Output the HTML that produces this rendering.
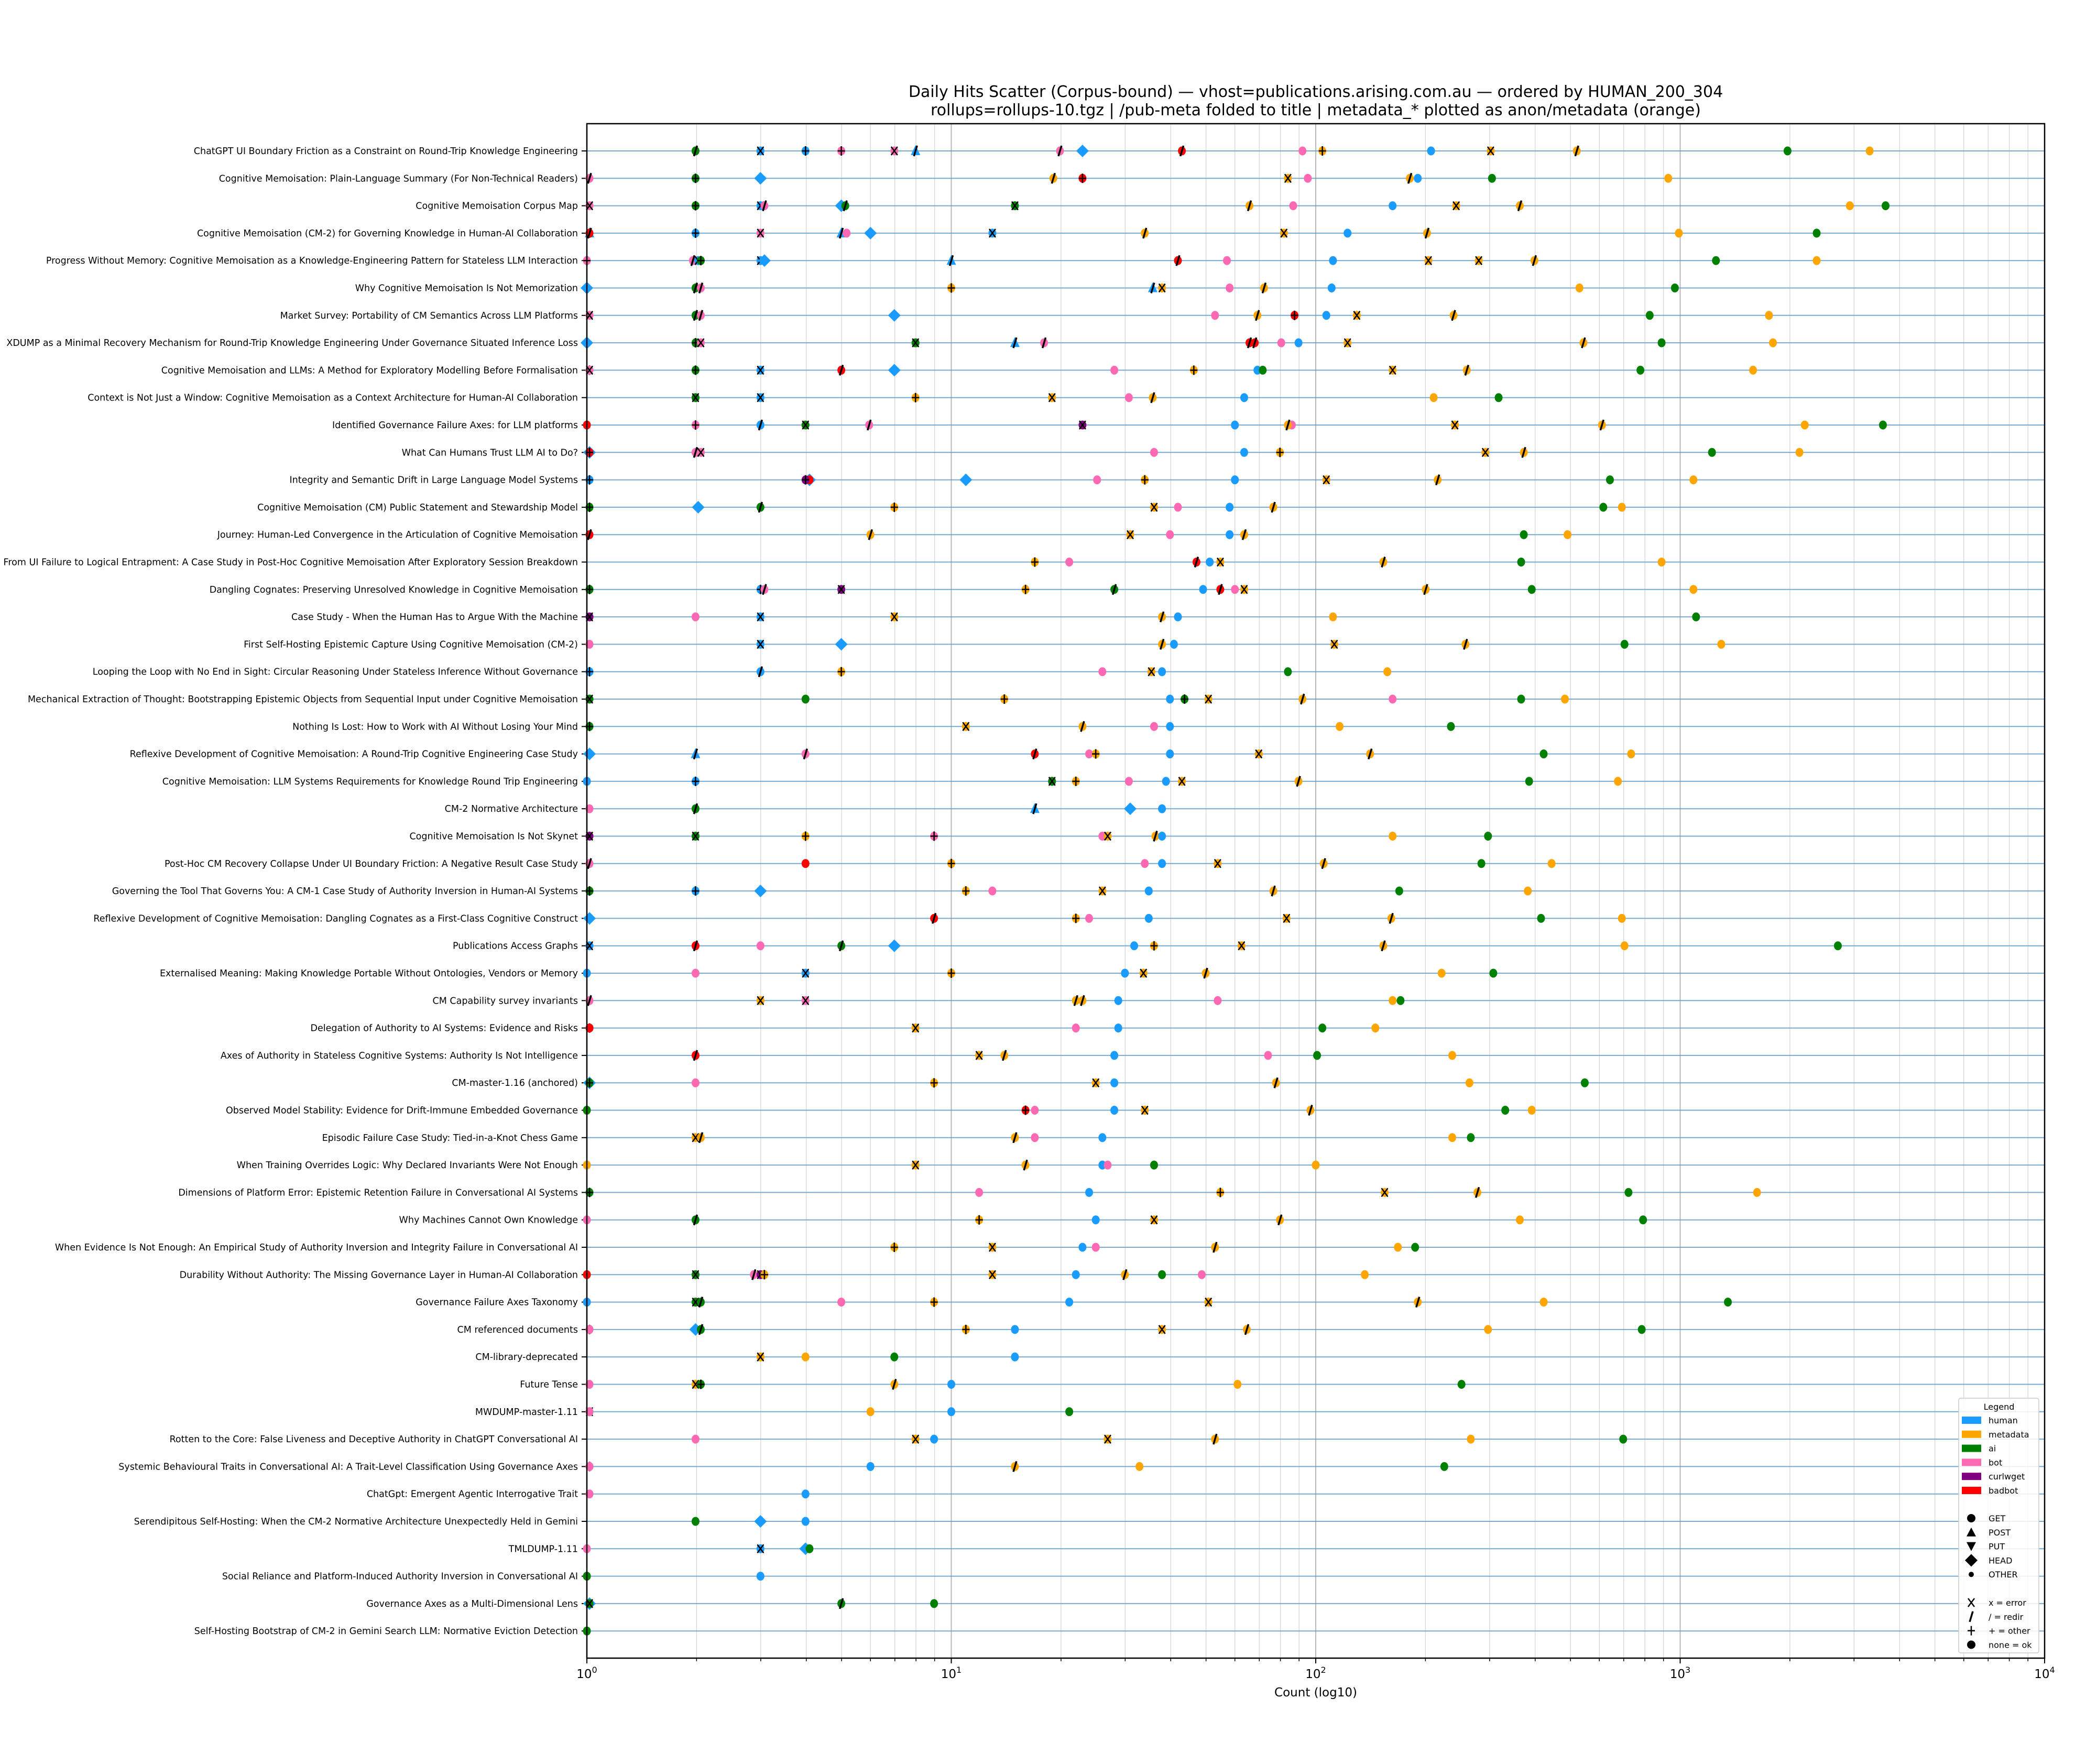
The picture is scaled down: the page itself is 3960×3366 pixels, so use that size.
<!DOCTYPE html>
<html><head><meta charset="utf-8"><style>
html,body{margin:0;padding:0;background:#fff}
svg{display:block}
text{font-family:"DejaVu Sans","Liberation Sans",sans-serif}
</style></head><body>
<svg id="s" xmlns="http://www.w3.org/2000/svg" width="3960" height="3366" viewBox="0 0 3960 3366">
<rect width="3960" height="3366" fill="#fff"/>
<text x="2511" y="185" font-size="30" text-anchor="middle">Daily Hits Scatter (Corpus-bound) — vhost=publications.arising.com.au — ordered by HUMAN_200_304</text>
<text x="2511" y="220" font-size="30" text-anchor="middle">rollups=rollups-10.tgz | /pub-meta folded to title | metadata_* plotted as anon/metadata (orange)</text>
<g id="g"></g>
</svg>
<script>
const L=1120,R=3902,T=236,B=3164,Y0=288,DY=52.3;
const labels=["ChatGPT UI Boundary Friction as a Constraint on Round-Trip Knowledge Engineering","Cognitive Memoisation: Plain-Language Summary (For Non-Technical Readers)","Cognitive Memoisation Corpus Map","Cognitive Memoisation (CM-2) for Governing Knowledge in Human-AI Collaboration","Progress Without Memory: Cognitive Memoisation as a Knowledge-Engineering Pattern for Stateless LLM Interaction","Why Cognitive Memoisation Is Not Memorization","Market Survey: Portability of CM Semantics Across LLM Platforms","XDUMP as a Minimal Recovery Mechanism for Round-Trip Knowledge Engineering Under Governance Situated Inference Loss","Cognitive Memoisation and LLMs: A Method for Exploratory Modelling Before Formalisation","Context is Not Just a Window: Cognitive Memoisation as a Context Architecture for Human-AI Collaboration","Identified Governance Failure Axes: for LLM platforms","What Can Humans Trust LLM AI to Do?","Integrity and Semantic Drift in Large Language Model Systems","Cognitive Memoisation (CM) Public Statement and Stewardship Model","Journey: Human-Led Convergence in the Articulation of Cognitive Memoisation","From UI Failure to Logical Entrapment: A Case Study in Post-Hoc Cognitive Memoisation After Exploratory Session Breakdown","Dangling Cognates: Preserving Unresolved Knowledge in Cognitive Memoisation","Case Study - When the Human Has to Argue With the Machine","First Self-Hosting Epistemic Capture Using Cognitive Memoisation (CM-2)","Looping the Loop with No End in Sight: Circular Reasoning Under Stateless Inference Without Governance","Mechanical Extraction of Thought: Bootstrapping Epistemic Objects from Sequential Input under Cognitive Memoisation","Nothing Is Lost: How to Work with AI Without Losing Your Mind","Reflexive Development of Cognitive Memoisation: A Round-Trip Cognitive Engineering Case Study","Cognitive Memoisation: LLM Systems Requirements for Knowledge Round Trip Engineering","CM-2 Normative Architecture","Cognitive Memoisation Is Not Skynet","Post-Hoc CM Recovery Collapse Under UI Boundary Friction: A Negative Result Case Study","Governing the Tool That Governs You: A CM-1 Case Study of Authority Inversion in Human-AI Systems","Reflexive Development of Cognitive Memoisation: Dangling Cognates as a First-Class Cognitive Construct","Publications Access Graphs","Externalised Meaning: Making Knowledge Portable Without Ontologies, Vendors or Memory","CM Capability survey invariants","Delegation of Authority to AI Systems: Evidence and Risks","Axes of Authority in Stateless Cognitive Systems: Authority Is Not Intelligence","CM-master-1.16 (anchored)","Observed Model Stability: Evidence for Drift-Immune Embedded Governance","Episodic Failure Case Study: Tied-in-a-Knot Chess Game","When Training Overrides Logic: Why Declared Invariants Were Not Enough","Dimensions of Platform Error: Epistemic Retention Failure in Conversational AI Systems","Why Machines Cannot Own Knowledge","When Evidence Is Not Enough: An Empirical Study of Authority Inversion and Integrity Failure in Conversational AI","Durability Without Authority: The Missing Governance Layer in Human-AI Collaboration","Governance Failure Axes Taxonomy","CM referenced documents","CM-library-deprecated","Future Tense","MWDUMP-master-1.11","Rotten to the Core: False Liveness and Deceptive Authority in ChatGPT Conversational AI","Systemic Behavioural Traits in Conversational AI: A Trait-Level Classification Using Governance Axes","ChatGpt: Emergent Agentic Interrogative Trait","Serendipitous Self-Hosting: When the CM-2 Normative Architecture Unexpectedly Held in Gemini","TMLDUMP-1.11","Social Reliance and Platform-Induced Authority Inversion in Conversational AI","Governance Axes as a Multi-Dimensional Lens","Self-Hosting Bootstrap of CM-2 in Gemini Search LLM: Normative Eviction Detection"];
const data=[
"526a/ 575hx 609h+ 636b+ 676bx 692h^/ 801b/ 818hD 893r/ 984b 999m+ 1081h 1126mx 1191m/ 1350a 1412m",
"446b/ 526a+ 575hD 796m/ 818r+ 973mx 988b 1065m/ 1071h 1127a 1260m",
"446bx 526a+ 575hx 578b/ 636hD 639a/ 767ax 944m/ 977b 1052h 1100mx 1148m/ 1397m 1424a",
"446h^+ 446r/ 526h+ 575bx 636h^/ 640b 658hD 750hx 865m/ 970mx 1018h 1078m/ 1268m 1372a",
"444b+ 524b/ 528hx 530a+ 575hx 578hD 719h^/ 890r/ 927b 1007h 1079mx 1117mx 1159m/ 1296a 1372m",
"444hD 526a/ 530b/ 719m+ 871h^/ 878mx 929b 955m/ 1006h 1193m 1265a",
"446bx 526a/ 530b/ 676hD 918b 950m/ 978r+ 1002h 1025mx 1098m/ 1246a 1336m",
"444hD 526a+ 530bx 692ax 767h^/ 789b/ 944r/ 948r/ 968b 981h 1018mx 1196m/ 1255a 1339m",
"446h+ 446bx 526a+ 575hx 636r/ 676hD 842b 902m+ 950h 954a 1052mx 1108m/ 1239a 1324m",
"526ax 575hx 692m+ 795mx 853b 871m/ 940h 1083m 1132a",
"444r 526b+ 575h/ 609ax 657b/ 818cx 933h 976b 973m/ 1099mx 1210m/ 1363m 1422a",
"446hD 446r+ 526b/ 530bx 872b 940h 967m+ 1122mx 1151m/ 1293a 1359m",
"446h+ 612hD 612r 609c+ 730hD 829b 865m+ 933h 1002mx 1086m/ 1216a 1279m",
"446a+ 528hD 575a/ 676m+ 872mx 890b 929h 962m/ 1211a 1225m",
"446r/ 658m/ 854mx 884b 929h 940m/ 1151a 1184m",
"782m+ 808b 904r/ 914h 922mx 1045m/ 1149a 1255m",
"446a+ 575h+ 578b/ 636cx 775m+ 842a/ 909h 922r/ 933b 940mx 1077m/ 1157a 1279m",
"446cx 526b 575hx 676mx 878m/ 890h 1007m 1281a",
"446b 575hx 636hD 878m/ 887h 1008mx 1107m/ 1227a 1300m",
"446h+ 575h/ 636m+ 833b 870mx 878h 973a 1048m",
"446ax 609a 759m+ 884h 895a+ 913mx 984m/ 1052b 1149a 1182m",
"446a+ 730mx 818m/ 872b 884h 1012m 1096a",
"446hD 526h^/ 609b/ 782r/ 823b 828m+ 884h 951mx 1035m/ 1166a 1232m",
"444h 526h+ 795ax 813m+ 853b 881h 893mx 981m/ 1155a 1222m",
"446b 526a/ 782h^/ 854hD 878h",
"446cx 526ax 609m+ 706b+ 833b 837mx 873m/ 878h 1052m 1124a",
"446b/ 609r 719m+ 865b 878h 920mx 1000m/ 1119a 1172m",
"446a+ 526h+ 575hD 730m+ 750b 833mx 868h 962m/ 1057a 1154m",
"446hD 706r/ 813m+ 823b 868h 972mx 1051m/ 1164a 1225m",
"446hx 526r/ 575b 636a/ 676hD 857h 872m+ 938mx 1045m/ 1227m 1388a",
"444h 526b 609hx 719m+ 850h 864mx 911m/ 1089m 1128a",
"446b/ 575mx 609bx 813m/ 818m/ 845h 920b 1052m 1058a",
"446a+ 446r 692mx 813b 845h 999a 1039m",
"526r/ 740mx 759m/ 842h 958b 995a 1097m",
"446hD 446a+ 526b 706m+ 828mx 842h 964m/ 1110m 1197a",
"444a 775r+ 782b 842h 865mx 990m/ 1137a 1157m",
"526mx 530m/ 767m/ 782b 833h 1097m 1111a",
"444m 692mx 775m/ 833h 837b 872a 994m",
"446a+ 740b 823h 922m+ 1046mx 1116m/ 1230a 1327m",
"444b 526a/ 740m+ 828h 872mx 967m/ 1148m 1241a",
"676m+ 750mx 818h 828b 918m/ 1056m 1069a",
"444r 526ax 570b/ 575cx 578m+ 750mx 813h 850m/ 878a 908b 1031m",
"444h 526ax 530a/ 636b 706m+ 808h 913mx 1071m/ 1166m 1305a",
"446a+ 446b 526hD 530a/ 730m+ 767h 878mx 942m/ 1124m 1240a",
"575mx 609m 676a 767h",
"446b 526mx 530a+ 676m/ 719h 935m 1104a",
"446mx 446b 658m 719h 808a",
"526b 692mx 706h 837mx 918m/ 1111m 1226a",
"446a+ 446b 658h 767m/ 861m 1091a",
"446b 609h",
"526a 575hD 609h",
"444b 575hx 609hD 612a",
"444a 575h",
"446hD 446ax 636a/ 706a",
"444a"];
const col={h:"#1a9bff",m:"#ffa500",a:"#008000",b:"#ff69b4",c:"#800080",r:"#ff0000"};
function X(dx){return L+(dx-444)*(R-L)/1100;}
function lx(v){return L+(R-L)/4*Math.log10(v);}
let o=[];
for(let d=0;d<4;d++)for(let k=2;k<10;k++){const x=lx(Math.pow(10,d)*k);o.push(`<line x1="${x}" y1="${T}" x2="${x}" y2="${B}" stroke="#d6d6d6" stroke-width="1.3"/>`);o.push(`<line x1="${x}" y1="${B}" x2="${x}" y2="${B+6}" stroke="#000" stroke-width="1.5"/>`);}
for(let d=0;d<=4;d++){const x=lx(Math.pow(10,d));o.push(`<line x1="${x}" y1="${T}" x2="${x}" y2="${B}" stroke="#b8b8b8" stroke-width="2"/>`);o.push(`<line x1="${x}" y1="${B}" x2="${x}" y2="${B+10}" stroke="#000" stroke-width="2"/>`);o.push(`<text x="${x}" y="3202" font-size="23" text-anchor="middle">10<tspan dy="-10" font-size="16">${d}</tspan></text>`);}
labels.forEach((t,i)=>{const y=Y0+i*DY;o.push(`<line x1="${L}" y1="${y}" x2="${R}" y2="${y}" stroke="#5f9ccb" stroke-width="2" opacity="0.85"/>`);o.push(`<line x1="${L-10}" y1="${y}" x2="${L}" y2="${y}" stroke="#000" stroke-width="2"/>`);o.push(`<text x="${L-17}" y="${y+6}" font-size="17.5" text-anchor="end">${t.replace(/&/g,"&amp;")}</text>`);});
function marker(x,y,c,s){
 if(s=="D")return `<polygon points="${x},${y-12} ${x+12},${y} ${x},${y+12} ${x-12},${y}" fill="${c}"/>`;
 if(s=="^")return `<polygon points="${x},${y-11} ${x+9},${y+8} ${x-9},${y+8}" fill="${c}"/>`;
 if(s=="v")return `<polygon points="${x},${y+11} ${x+9},${y-8} ${x-9},${y-8}" fill="${c}"/>`;
 return `<ellipse cx="${x}" cy="${y}" rx="7.5" ry="8.5" fill="${c}"/>`;}
function stat(x,y,st){
 if(st=="x")return `<path d="M${x-6} ${y-8}L${x+6} ${y+8}M${x+6} ${y-8}L${x-6} ${y+8}" stroke="#000" stroke-width="2.5"/>`;
 if(st=="/")return `<path d="M${x+3} ${y-10}L${x-3} ${y+10}" stroke="#000" stroke-width="3.5"/>`;
 if(st=="+")return `<path d="M${x-7} ${y}L${x+7} ${y}M${x} ${y-9}L${x} ${y+9}" stroke="#000" stroke-width="2.5"/>`;
 return "";}
data.forEach((row,i)=>{const y=Y0+i*DY;row.split(" ").forEach(tk=>{const m=tk.match(/^(\d+)([hmabcr])(.*)$/);if(!m)return;const x=X(+m[1]);let s="o",st="";for(const ch of m[3]){if("D^v".includes(ch))s=ch;else st=ch;}o.push(marker(x,y,col[m[2]],s));o.push(stat(x,y,st));});});
o.push(`<rect x="${L}" y="${T}" width="${R-L}" height="${B-T}" fill="none" stroke="#000" stroke-width="2.5"/>`);
o.push(`<text x="2511" y="3237" font-size="23" text-anchor="middle">Count (log10)</text>`);
o.push(`<rect x="3738" y="2668" width="153" height="486" rx="4" fill="#fff" fill-opacity="0.85" stroke="#ccc" stroke-width="1.5"/>`);
o.push(`<text x="3815" y="2690" font-size="16" text-anchor="middle">Legend</text>`);
[["human","h"],["metadata","m"],["ai","a"],["bot","b"],["curlwget","c"],["badbot","r"]].forEach((e,k)=>{const y=2710+k*26.8;o.push(`<rect x="3744" y="${y-7}" width="37" height="14" fill="${col[e[1]]}"/>`);o.push(`<text x="3795" y="${y+6}" font-size="16">${e[0]}</text>`);});
const sh=[["GET","o"],["POST","^"],["PUT","v"],["HEAD","D"],["OTHER","."]];
sh.forEach((e,k)=>{const y=2897+k*26.8,x=3762;let m;
 if(e[1]=="o")m=`<circle cx="${x}" cy="${y}" r="8" fill="#000"/>`;
 else if(e[1]=="^")m=`<polygon points="${x},${y-9} ${x+9},${y+8} ${x-9},${y+8}" fill="#000"/>`;
 else if(e[1]=="v")m=`<polygon points="${x},${y+9} ${x+9},${y-8} ${x-9},${y-8}" fill="#000"/>`;
 else if(e[1]=="D")m=`<polygon points="${x},${y-12} ${x+12},${y} ${x},${y+12} ${x-12},${y}" fill="#000"/>`;
 else m=`<circle cx="${x}" cy="${y}" r="5" fill="#000"/>`;
 o.push(m);o.push(`<text x="3795" y="${y+6}" font-size="16">${e[0]}</text>`);});
const st=[["x = error","x"],["/ = redir","/"],["+ = other","+"],["none = ok","o"]];
st.forEach((e,k)=>{const y=3058+k*26.8,x=3762;
 if(e[1]=="o")o.push(`<circle cx="${x}" cy="${y}" r="8" fill="#000"/>`);else o.push(stat(x,y,e[1]));
 o.push(`<text x="3795" y="${y+6}" font-size="16">${e[0]}</text>`);});
document.getElementById("g").innerHTML=o.join("");
</script>
</body></html>
